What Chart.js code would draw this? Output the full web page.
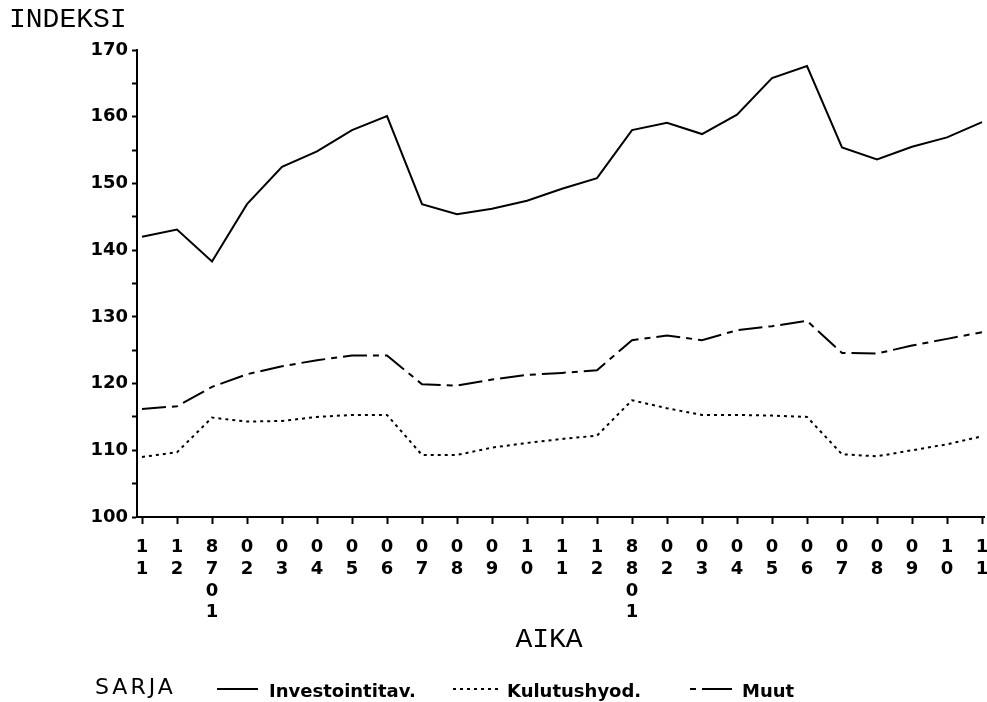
<!DOCTYPE html>
<html>
<head>
<meta charset="utf-8">
<script src="https://cdn.jsdelivr.net/npm/chart.js@4/dist/chart.umd.min.js"></script>
<style>
  body { margin: 0; background: #fff; }
  #wrap { width: 987px; height: 702px; position: relative; }
</style>
</head>
<body>
<div id="wrap"><canvas id="chart"></canvas></div>
<script>
// kuukaudet 8611 ... 8811
const months = ['8611','8612','8701','8702','8703','8704','8705','8706','8707','8708','8709','8710','8711','8712',
                '8801','8802','8803','8804','8805','8806','8807','8808','8809','8810','8811'];
const tickLabels = ['11','12','8701','02','03','04','05','06','07','08','09','10','11','12',
                    '8801','02','03','04','05','06','07','08','09','10','11'];

const investointi = [142.0,143.1,138.3,146.9,152.5,154.8,158.0,160.1,146.9,145.4,146.2,147.4,149.2,150.8,
                     158.0,159.1,157.4,160.3,165.8,167.6,155.4,153.6,155.5,156.9,159.2];
const kulutus = [109.0,109.7,114.9,114.3,114.4,115.0,115.3,115.3,109.3,109.3,110.4,111.1,111.7,112.2,
                 117.5,116.3,115.3,115.3,115.2,115.0,109.4,109.1,110.0,110.9,112.1];
const muut = [116.2,116.6,119.5,121.4,122.6,123.5,124.2,124.2,119.9,119.7,120.6,121.3,121.6,122.0,
              126.5,127.2,126.5,128.0,128.6,129.4,124.6,124.5,125.7,126.7,127.7];

const seriesNames = ['Investointitav.', 'Kulutushyod.', 'Muut'];

const sansFont = '"DejaVu Sans", sans-serif';
const monoFont = '"Liberation Mono", monospace';

const toPoints = arr => arr.map((v, i) => ({ x: i, y: v }));

// otsikot ja selite piirretaan itse
const textPlugin = {
  id: 'texts',
  afterDraw(chart) {
    const ctx = chart.ctx;
    ctx.save();
    ctx.fillStyle = '#000';
    ctx.textBaseline = 'alphabetic';

    ctx.font = '28px ' + monoFont;
    ctx.textAlign = 'left';
    ctx.letterSpacing = '0px';
    ctx.fillText('INDEKSI', 9, 27);

    ctx.textAlign = 'center';
    ctx.fillText('AIKA', 549, 647);

    ctx.textAlign = 'left';
    ctx.font = '22px ' + sansFont;
    ctx.letterSpacing = '3px';
    ctx.fillText('SARJA', 95, 694);
    ctx.letterSpacing = '0px';

    ctx.font = 'bold 18px ' + sansFont;
    const items = [
      { x1: 217, x2: 258, tx: 269, ds: 0 },
      { x1: 453, x2: 499, tx: 507, ds: 1 },
      { x1: 690, x2: 732, tx: 742, ds: 2 }
    ];
    items.forEach(it => {
      const d = chart.data.datasets[it.ds];
      ctx.beginPath();
      ctx.lineWidth = 2;
      ctx.strokeStyle = '#000';
      ctx.setLineDash(it.ds === 2 ? [6, 6, 30, 0] : (d.borderDash || []));
      ctx.moveTo(it.x1, 689);
      ctx.lineTo(it.x2, 689);
      ctx.stroke();
      ctx.setLineDash([]);
      ctx.fillText(d.label, it.tx, 697);
    });
    ctx.restore();
  }
};

new Chart(document.getElementById('chart'), {
  type: 'line',
  data: {
    datasets: [
      { label: seriesNames[0], data: toPoints(investointi), borderColor: '#000', borderWidth: 2 },
      { label: seriesNames[1], data: toPoints(kulutus), borderColor: '#000', borderWidth: 2, borderDash: [3, 4] },
      { label: seriesNames[2], data: toPoints(muut), borderColor: '#000', borderWidth: 2, borderDash: [24, 6, 6, 6] }
    ]
  },
  options: {
    responsive: true,
    maintainAspectRatio: false,
    animation: false,
    layout: { padding: { top: 50, right: 3, left: 0, bottom: 0 } },
    elements: { point: { radius: 0 }, line: { tension: 0 } },
    plugins: {
      legend: { display: false },
      tooltip: { enabled: false }
    },
    scales: {
      x: {
        type: 'linear',
        min: -0.143,
        max: 24.057,
        afterFit: s => { s.height = 185; s.paddingLeft = 0; s.paddingRight = 0; },
        afterBuildTicks: s => { s.ticks = months.map((m, i) => ({ value: i })); },
        grid: { drawOnChartArea: false, drawTicks: true, tickLength: 7, tickColor: '#000', tickWidth: 2 },
        border: { display: true, color: '#000', width: 2 },
        ticks: {
          autoSkip: false,
          maxRotation: 0,
          padding: 13,
          color: '#000',
          font: { family: sansFont, size: 18, weight: 'bold', lineHeight: 1.2 },
          callback: v => tickLabels[v] ? tickLabels[v].split('') : ''
        }
      },
      y: {
        min: 100,
        max: 170,
        afterFit: s => { s.width = 137; },
        grid: { drawOnChartArea: false, drawTicks: true, tickLength: 5, tickColor: '#000', tickWidth: 2 },
        border: { display: true, color: '#000', width: 2 },
        ticks: {
          stepSize: 5,
          padding: 4,
          color: '#000',
          font: { family: sansFont, size: 18, weight: 'bold' },
          callback: v => (v % 10 === 0 ? String(v) : '')
        }
      }
    }
  },
  plugins: [textPlugin]
});
</script>
</body>
</html>
